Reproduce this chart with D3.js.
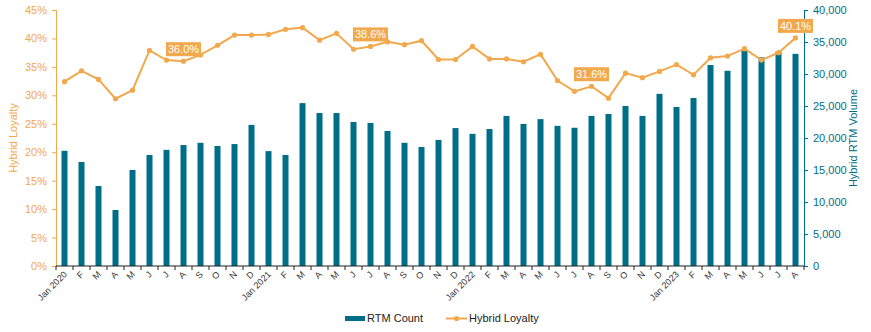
<!DOCTYPE html>
<html><head><meta charset="utf-8">
<script src="https://cdn.jsdelivr.net/npm/d3@7"></script>
<style>body{margin:0;background:#fff;} svg text{font-family:"Liberation Sans",Arial,sans-serif;}</style>
</head><body><svg id="c" width="871" height="332" font-family="Liberation Sans, Arial, sans-serif"></svg>
<script>
const months = ["Jan 2020","F","M","A","M","J","J","A","S","O","N","D",
"Jan 2021","F","M","A","M","J","J","A","S","O","N","D",
"Jan 2022","F","M","A","M","J","J","A","S","O","N","D",
"Jan 2023","F","M","A","M","J","J","A"];
const rtmCount = [18000,16250,12500,8750,15000,17350,18150,18900,19250,18750,19050,22050,
17950,17350,25450,23900,23900,22500,22350,21100,19250,18600,19700,21550,
20650,21400,23450,22200,22950,21900,21600,23450,23750,25000,23450,26900,
24850,26250,31400,30500,33700,32600,33500,33150];
const hybridLoyalty = [32.4,34.3,32.8,29.4,30.9,37.9,36.2,36.0,37.1,38.8,40.6,40.6,
40.7,41.6,41.9,39.7,40.9,38.1,38.6,39.4,38.9,39.6,36.3,36.3,
38.6,36.4,36.4,35.9,37.2,32.6,30.7,31.6,29.5,33.9,33.1,34.2,
35.4,33.6,36.6,36.9,38.2,36.2,37.5,40.1];
const labelled = {7:"36.0%",18:"38.6%",31:"31.6%",43:"40.1%"};
const leftTicks = [0,5,10,15,20,25,30,35,40,45];
const rightTicks = [0,5000,10000,15000,20000,25000,30000,35000,40000];

const TEAL="#006E87", ORANGE="#F2A84C";
const FONT="Liberation Sans, Arial, sans-serif";
const svg = d3.select("#c");
const L=56, R=804, T=10, B=266;
const x = d3.scaleBand().domain(d3.range(months.length)).range([L,R]).paddingInner(0).paddingOuter(0);
const yL = d3.scaleLinear().domain([0,45]).range([B,T]);
const yR = d3.scaleLinear().domain([0,40000]).range([B,T]);
const cx = i => x(i)+x.bandwidth()/2;

// bars
const bw = 6;
svg.append("g").selectAll("rect").data(rtmCount).join("rect")
  .attr("x",(d,i)=>cx(i)-bw/2).attr("width",bw)
  .attr("y",d=>yR(d)).attr("height",d=>B-yR(d)).attr("fill",TEAL);

// line
const line = d3.line().x((d,i)=>cx(i)).y(d=>yL(d));
svg.append("path").datum(hybridLoyalty).attr("d",line).attr("fill","none")
  .attr("stroke",ORANGE).attr("stroke-width",2);
svg.append("g").selectAll("circle").data(hybridLoyalty).join("circle")
  .attr("cx",(d,i)=>cx(i)).attr("cy",d=>yL(d)).attr("r",2.6).attr("fill",ORANGE);

// left axis
const gL = svg.append("g").attr("transform",`translate(${L},0)`)
  .call(d3.axisLeft(yL).tickValues(leftTicks).tickFormat(d=>d+"%").tickSize(4).tickPadding(5));
gL.attr("font-family",FONT);
gL.select(".domain").attr("stroke",ORANGE);
gL.selectAll(".tick line").attr("stroke",ORANGE);
gL.selectAll(".tick text").attr("fill",ORANGE).attr("font-size",11);

// right axis
const gR = svg.append("g").attr("transform",`translate(${R},0)`)
  .call(d3.axisRight(yR).tickValues(rightTicks).tickFormat(d3.format(",")).tickSize(4).tickPadding(5));
gR.attr("font-family",FONT);
gR.select(".domain").attr("stroke",TEAL);
gR.selectAll(".tick line").attr("stroke",TEAL);
gR.selectAll(".tick text").attr("fill",TEAL).attr("font-size",11);

// bottom axis
const gB = svg.append("g").attr("transform",`translate(0,${B})`).attr("font-family",FONT);
gB.append("line").attr("x1",L).attr("x2",R).attr("stroke","#222").attr("stroke-width",1.2);
gB.selectAll("line.tk").data(d3.range(months.length+1)).join("line").attr("class","tk")
  .attr("x1",i=>L+i*x.bandwidth()).attr("x2",i=>L+i*x.bandwidth()).attr("y1",0).attr("y2",4).attr("stroke","#222");
gB.selectAll("text").data(months).join("text")
  .attr("transform",(d,i)=>`translate(${cx(i)+3},${9}) rotate(-45)`)
  .attr("text-anchor","end").attr("font-size",9).attr("fill","#333").text(d=>d);

// data labels (on top)
Object.entries(labelled).forEach(([i,t])=>{
  i=+i;
  const px=cx(i), py=yL(hybridLoyalty[i]);
  const w=35, h=14;
  svg.append("rect").attr("x",px-w/2).attr("y",py-5-h).attr("width",w).attr("height",h).attr("fill",ORANGE);
  svg.append("text").attr("x",px).attr("y",py-5-h/2).attr("dy","0.36em").attr("text-anchor","middle")
    .attr("fill","#fff").attr("font-size",11).attr("font-family",FONT).text(t);
});

// axis titles
svg.append("text").attr("transform",`translate(17,${(T+B)/2}) rotate(-90)`).attr("text-anchor","middle")
  .attr("fill",ORANGE).attr("font-size",11).attr("font-family",FONT).text("Hybrid Loyalty");
svg.append("text").attr("transform",`translate(857,${(T+B)/2}) rotate(-90)`).attr("text-anchor","middle")
  .attr("fill",TEAL).attr("font-size",11).attr("font-family",FONT).text("Hybrid RTM Volume");

// legend
const lg = svg.append("g").attr("font-family",FONT);
lg.append("rect").attr("x",345).attr("y",316).attr("width",20).attr("height",5).attr("fill",TEAL);
lg.append("text").attr("x",367).attr("y",318.5).attr("dy","0.36em").attr("font-size",11).attr("fill","#222").text("RTM Count");
lg.append("line").attr("x1",446).attr("x2",467).attr("y1",318.5).attr("y2",318.5).attr("stroke",ORANGE).attr("stroke-width",2);
lg.append("circle").attr("cx",456.5).attr("cy",318.5).attr("r",2.6).attr("fill",ORANGE);
lg.append("text").attr("x",469).attr("y",318.5).attr("dy","0.36em").attr("font-size",11).attr("fill","#222").text("Hybrid Loyalty");
</script></body></html>
